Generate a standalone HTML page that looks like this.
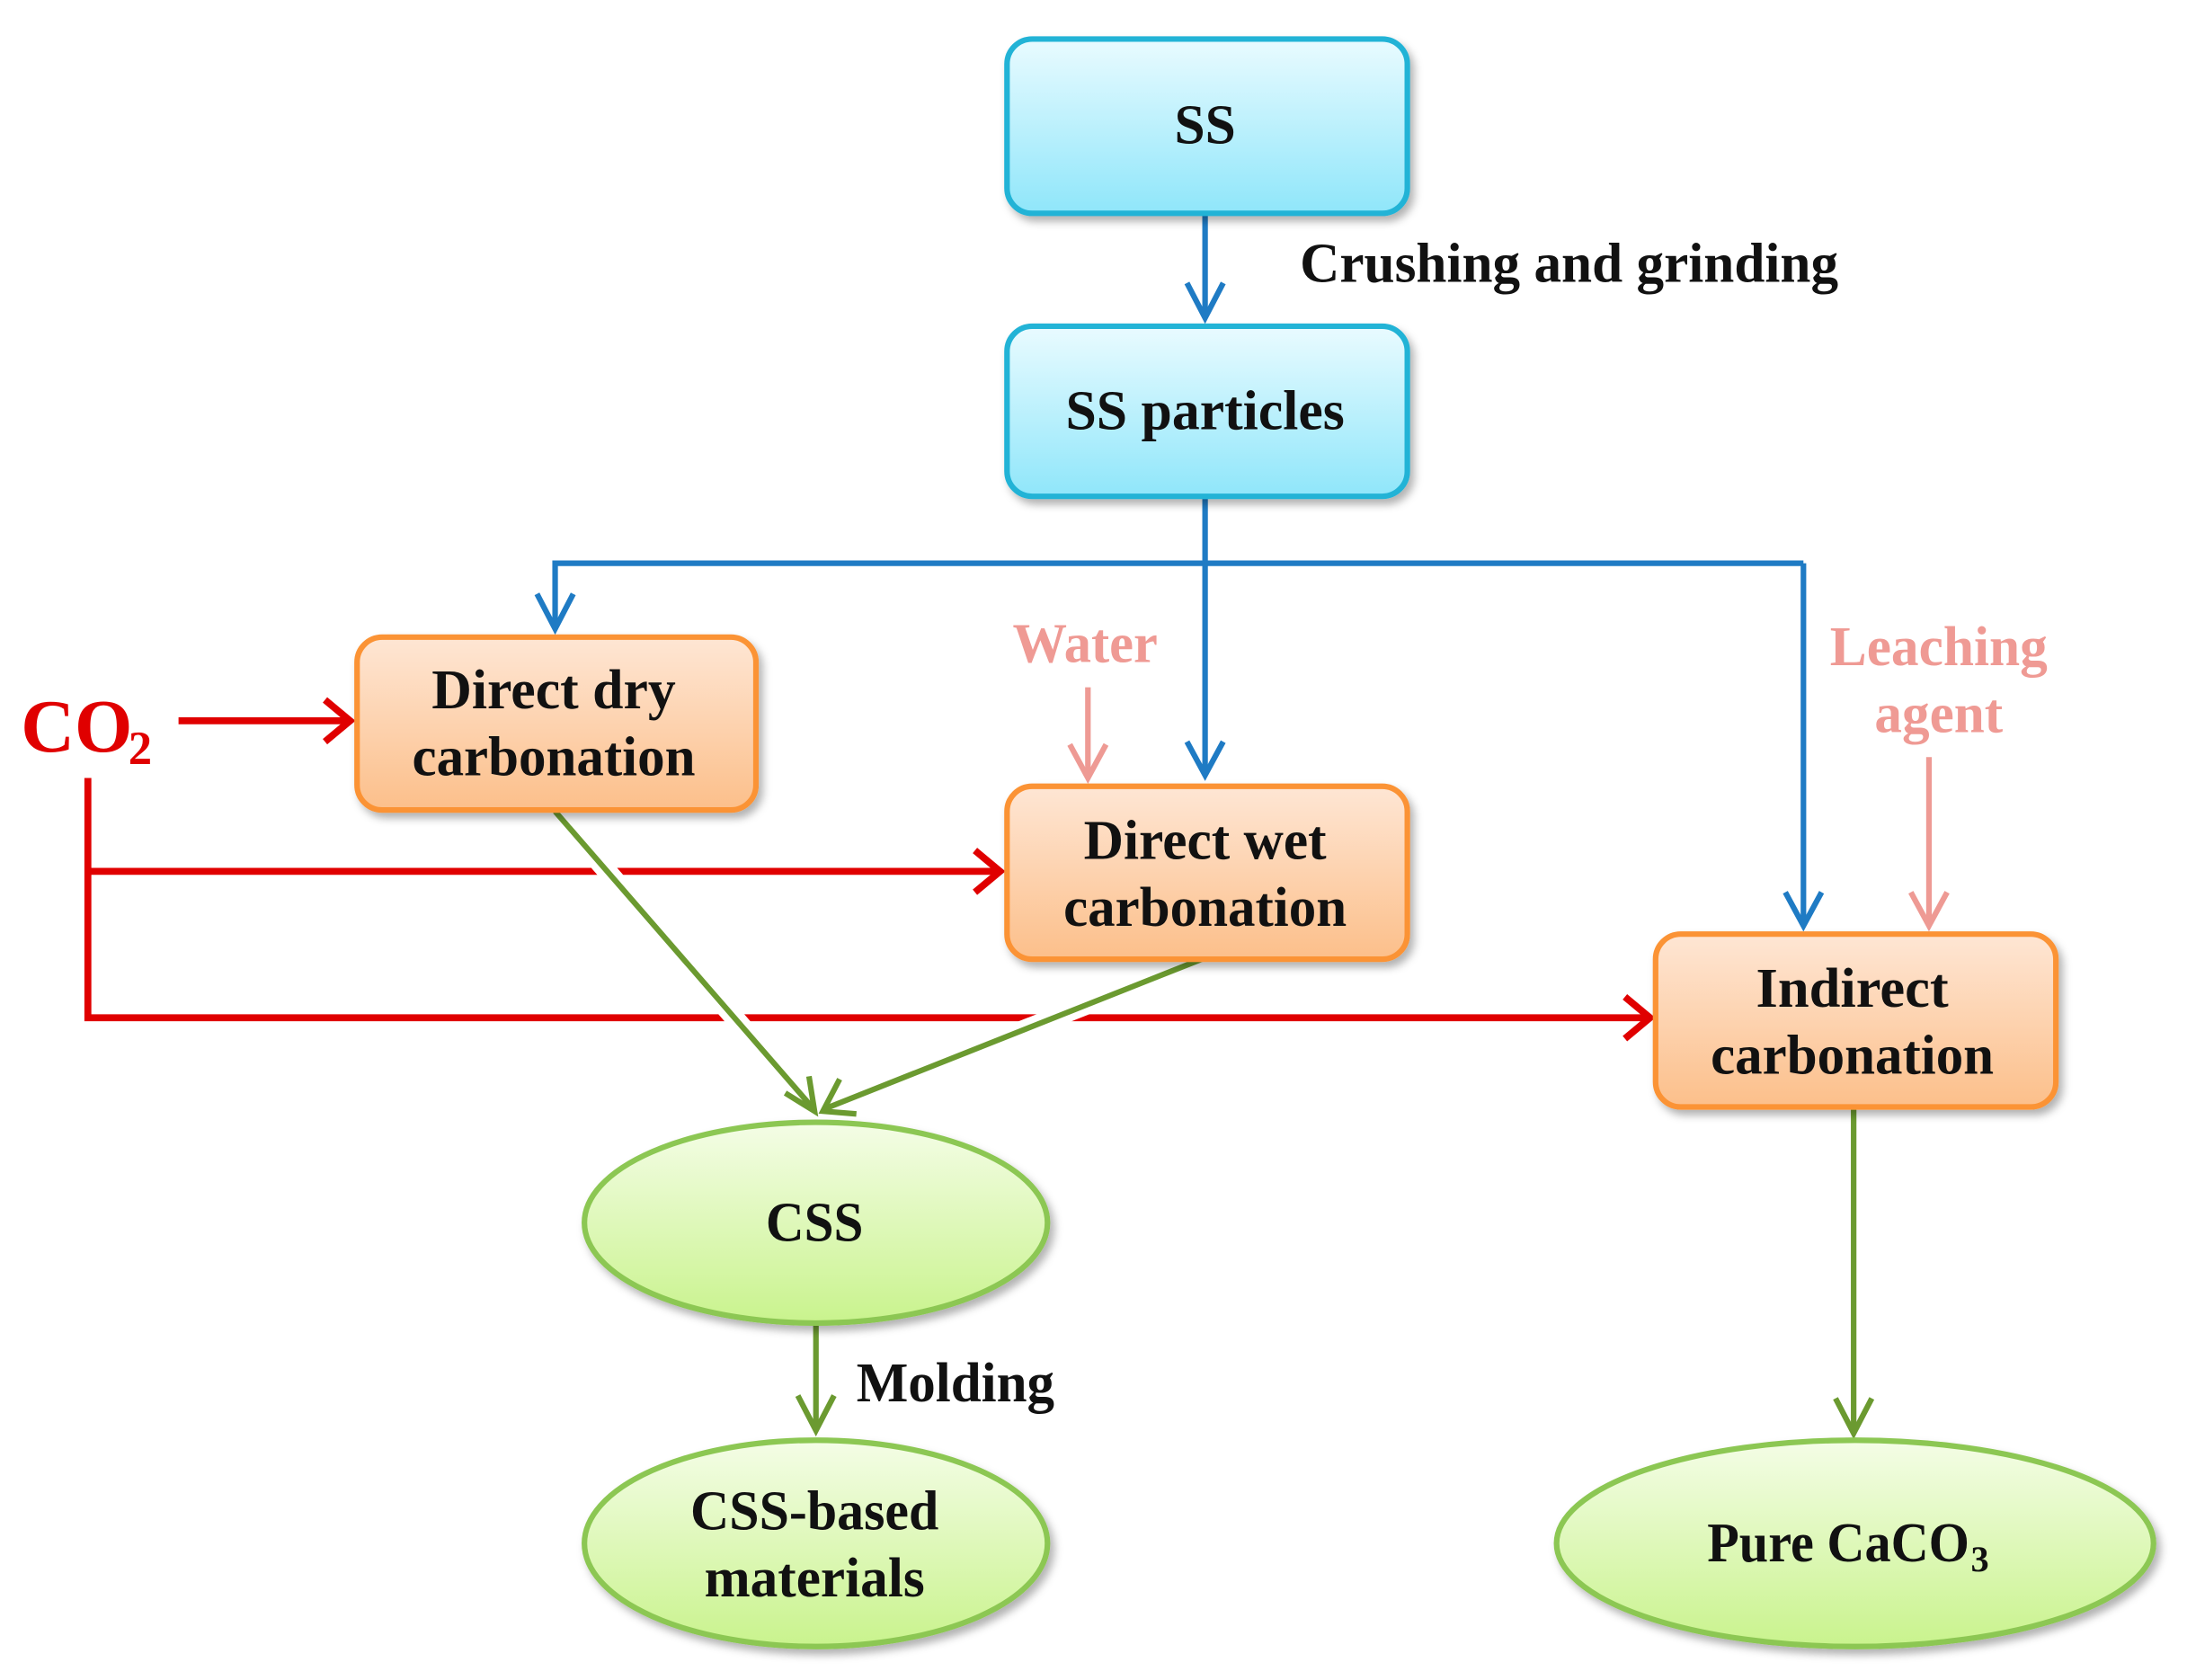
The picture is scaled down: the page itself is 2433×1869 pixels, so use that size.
<!DOCTYPE html>
<html><head><meta charset="utf-8"><style>html,body{margin:0;padding:0;background:#fff}svg{display:block}</style></head>
<body>
<svg width="2433" height="1869" viewBox="0 0 1568 1205" preserveAspectRatio="none" xmlns="http://www.w3.org/2000/svg" font-family="'Liberation Serif', serif" font-weight="bold">
<defs>
<linearGradient id="cy" x1="0" y1="0" x2="0" y2="1"><stop offset="0" stop-color="#e9fbff"/><stop offset="1" stop-color="#8fe6fa"/></linearGradient>
<linearGradient id="or" x1="0" y1="0" x2="0" y2="1"><stop offset="0" stop-color="#fee6d4"/><stop offset="1" stop-color="#fcbf8a"/></linearGradient>
<linearGradient id="gr" x1="0" y1="0" x2="0" y2="1"><stop offset="0" stop-color="#f4fde6"/><stop offset="1" stop-color="#c9f38d"/></linearGradient>
<filter id="sh" x="-10%" y="-10%" width="130%" height="130%"><feDropShadow dx="3" dy="4" stdDeviation="3" flood-color="#000" flood-opacity="0.3"/></filter>
</defs>
<g fill="none" stroke-width="4">
<g stroke="#1f7bc4">
<line x1="864" y1="154" x2="864" y2="228"/><polyline points="851,203 864,228 877,203"/>
<polyline points="864,357 864,404 398,404 398,450"/><polyline points="385,426 398,451 411,426"/>
<line x1="864" y1="404" x2="1293" y2="404"/><line x1="1293" y1="404" x2="1293" y2="664"/><polyline points="1280,640 1293,664 1306,640"/>
<line x1="864" y1="404" x2="864" y2="556"/><polyline points="851,532 864,556 877,532"/>
</g>
<g stroke="#ee9a94">
<line x1="780" y1="493" x2="780" y2="558"/><polyline points="767,534 780,558 793,534"/>
<line x1="1383" y1="543" x2="1383" y2="664"/><polyline points="1370,640 1383,664 1396,640"/>
</g>
<g stroke="#e00000" stroke-width="5">
<line x1="128" y1="517" x2="250" y2="517"/><polyline points="233,502 251,517 233,532"/>
<polyline points="63,558 63,730 1182,730"/><polyline points="1165,715 1183,730 1165,745"/>
<line x1="63" y1="625" x2="716" y2="625"/><polyline points="699,610 717,625 699,640"/>
</g>
<g stroke="#fff" stroke-width="14">
<line x1="398" y1="582" x2="583" y2="795"/><line x1="864" y1="687" x2="592" y2="795"/>
</g>
<g stroke="#6b9a30" stroke-width="4">
<line x1="398" y1="582" x2="583" y2="795"/><polyline points="563,784 584,797 580,772"/>
<line x1="864" y1="687" x2="592" y2="795"/><polyline points="602,774 590,797 614,799"/>
<line x1="585" y1="950" x2="585" y2="1025"/><polyline points="572,1001 585,1026 598,1001"/>
<line x1="1329" y1="795" x2="1329" y2="1027"/><polyline points="1316,1003 1329,1028 1342,1003"/>
</g>
</g>
<g stroke-width="4" filter="url(#sh)">
<rect x="722" y="28" width="287" height="125" rx="18" fill="url(#cy)" stroke="#22b3d6"/>
<rect x="722" y="234" width="287" height="122" rx="18" fill="url(#cy)" stroke="#22b3d6"/>
<rect x="256" y="457" width="286" height="124" rx="18" fill="url(#or)" stroke="#fb9336"/>
<rect x="722" y="564" width="287" height="124" rx="18" fill="url(#or)" stroke="#fb9336"/>
<rect x="1187" y="670" width="287" height="124" rx="18" fill="url(#or)" stroke="#fb9336"/>
<ellipse cx="585" cy="877" rx="166" ry="72" fill="url(#gr)" stroke="#8cc752"/>
<ellipse cx="585" cy="1107" rx="166" ry="74" fill="url(#gr)" stroke="#8cc752"/>
<ellipse cx="1330" cy="1107" rx="214" ry="74" fill="url(#gr)" stroke="#8cc752"/>
</g>
<g font-size="40" fill="#111" text-anchor="middle">
<text x="864" y="103" textLength="44" lengthAdjust="spacingAndGlyphs">SS</text>
<text x="864" y="308" textLength="200" lengthAdjust="spacingAndGlyphs">SS particles</text>
<text x="397" y="508" textLength="175" lengthAdjust="spacingAndGlyphs">Direct dry</text>
<text x="397" y="556" textLength="203" lengthAdjust="spacingAndGlyphs">carbonation</text>
<text x="864" y="616" textLength="174" lengthAdjust="spacingAndGlyphs">Direct wet</text>
<text x="864" y="664" textLength="203" lengthAdjust="spacingAndGlyphs">carbonation</text>
<text x="1328" y="722" textLength="138" lengthAdjust="spacingAndGlyphs">Indirect</text>
<text x="1328" y="770" textLength="203" lengthAdjust="spacingAndGlyphs">carbonation</text>
<text x="584" y="890" textLength="70" lengthAdjust="spacingAndGlyphs">CSS</text>
<text x="584" y="1097" textLength="178" lengthAdjust="spacingAndGlyphs">CSS-based</text>
<text x="584" y="1145" textLength="158" lengthAdjust="spacingAndGlyphs">materials</text>
<text x="1318" y="1120" textLength="188" lengthAdjust="spacingAndGlyphs">Pure CaCO</text>
</g>
<text x="1413" y="1127" font-size="26" fill="#111">3</text>
<g font-size="40" fill="#111">
<text x="932" y="202" textLength="386" lengthAdjust="spacingAndGlyphs">Crushing and grinding</text>
<text x="614" y="1005" textLength="142" lengthAdjust="spacingAndGlyphs">Molding</text>
</g>
<g font-size="40" fill="#ef9a94" text-anchor="middle">
<text x="778" y="475" textLength="104" lengthAdjust="spacingAndGlyphs">Water</text>
<text x="1390" y="477" textLength="156" lengthAdjust="spacingAndGlyphs">Leaching</text>
<text x="1390" y="525" textLength="92" lengthAdjust="spacingAndGlyphs">agent</text>
</g>
<text x="15" y="539" font-size="54" fill="#e00000" textLength="80" lengthAdjust="spacingAndGlyphs">CO</text>
<text x="92" y="548" font-size="34" fill="#e00000">2</text>
</svg>
</body></html>
